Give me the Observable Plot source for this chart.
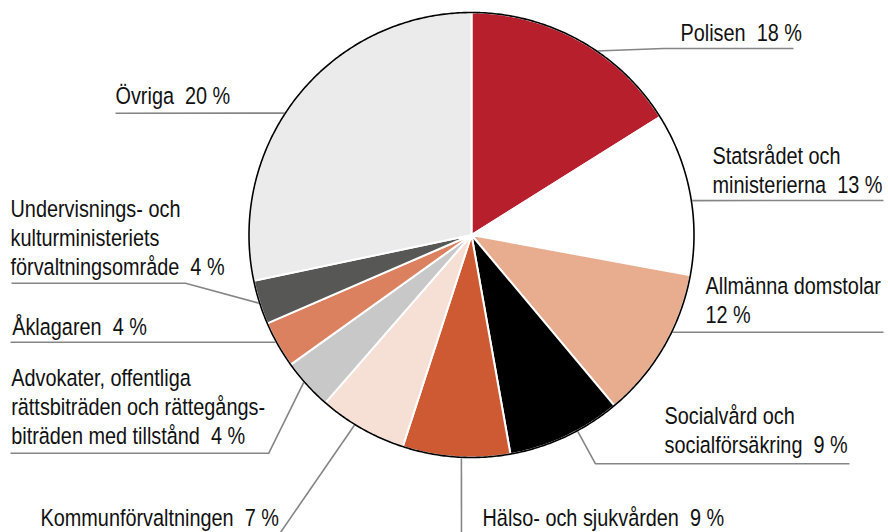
<!DOCTYPE html>
<html>
<head>
<meta charset="utf-8">
<script src="https://cdn.jsdelivr.net/npm/d3@7"></script>
<script src="https://cdn.jsdelivr.net/npm/@observablehq/plot@0.6"></script>
<style>
  html, body { margin: 0; padding: 0; background: #ffffff; overflow: hidden; }
</style>
</head>
<body>
<div id="chart"></div>
<script>
// ---------- data ----------
const categories = [
  "Polisen",
  "Statsrådet och ministerierna",
  "Allmänna domstolar",
  "Socialvård och socialförsäkring",
  "Hälso- och sjukvården",
  "Kommunförvaltningen",
  "Advokater, offentliga rättsbiträden och rättegångsbiträden med tillstånd",
  "Åklagaren",
  "Undervisnings- och kulturministeriets förvaltningsområde",
  "Övriga"
];
// slice sizes as drawn in the picture (share of the full circle, %)
const sliceShares = [16.1, 11.8, 11.0, 8.3, 7.8, 6.4, 3.7, 3.4, 3.2, 28.3];
// printed labels (lines)
const labelLines = [
  ["Polisen  18 %"],
  ["Statsrådet och", "ministerierna  13 %"],
  ["Allmänna domstolar", "12 %"],
  ["Socialvård och", "socialförsäkring  9 %"],
  ["Hälso- och sjukvården  9 %"],
  ["Kommunförvaltningen  7 %"],
  ["Advokater, offentliga", "rättsbiträden och rättegångs-", "biträden med tillstånd  4 %"],
  ["Åklagaren  4 %"],
  ["Undervisnings- och", "kulturministeriets", "förvaltningsområde  4 %"],
  ["Övriga  20 %"]
];

// ---------- styles ----------
const palette = ["#b81f2d", "#ffffff", "#e8ad8f", "#000000", "#cd5a33",
                 "#f6dfd5", "#c8c8c8", "#dc8160", "#575755", "#ebebeb"];

// ---------- layout ----------
const W = 888, H = 532, CX = 471, CY = 234.5, R = 222.5;
const LINE_GAP = 29;
const FONT_SIZE = 23.5, NARROW = 0.845;
const toU = ([px, py]) => [(px - CX) / R, (CY - py) / R];
// text: [left x, baseline of last line]; anchorDeg: where the leader leaves the pie; path: rest of leader
const labelLayout = [
  {text: [680, 40],    anchorDeg: 34.2,  path: [[663, 48], [793, 48]]},
  {text: [712, 192.7], anchorDeg: 81.1,  path: [[883, 200]]},
  {text: [705, 322.7], anchorDeg: 115.9, path: [[883, 331.7]]},
  {text: [664, 452.7], anchorDeg: 151.6, path: [[595, 463.3], [849, 463.3]]},
  {text: [482, 525],   anchorDeg: 182.6, path: [[461, 545]]},
  {text: [40, 525],    anchorDeg: 211.6, path: [[271, 545]]},
  {text: [10.7, 443.3],anchorDeg: 228.8, path: [[268.3, 452.7], [10, 452.7]]},
  {text: [11.7, 334],  anchorDeg: 241.2, path: [[10, 341.7]]},
  {text: [10, 274],    anchorDeg: 252.1, path: [[185, 282.7], [11, 282.7]]},
  {text: [115, 103.3], anchorDeg: 303.2, path: [[115, 112.7]]}
];

// ---------- derived geometry ----------
const table = categories.map((name, i) => ({name, value: sliceShares[i], color: palette[i]}));
const arcs = d3.pie().sort(null).value(d => d.value).startAngle(0).endAngle(2 * Math.PI)(table);

const slicePts = arcs.flatMap(a => {
  const n = Math.max(2, Math.ceil((a.endAngle - a.startAngle) / 0.005));
  const pts = [{name: a.data.name, color: a.data.color, x: 0, y: 0}];
  for (let k = 0; k <= n; k++) {
    const t = a.startAngle + (a.endAngle - a.startAngle) * k / n;
    pts.push({name: a.data.name, color: a.data.color, x: Math.sin(t), y: Math.cos(t)});
  }
  pts.push({name: a.data.name, color: a.data.color, x: 0, y: 0});
  return pts;
});

const rimPts = d3.range(0, 721).map(k => {
  const t = k / 720 * 2 * Math.PI;
  return {x: Math.sin(t), y: Math.cos(t)};
});

const leaderPts = labelLayout.flatMap((L, i) => {
  const t = L.anchorDeg * Math.PI / 180;
  const pts = [{id: i, x: Math.sin(t), y: Math.cos(t)}];
  L.path.forEach(p => { const [x, y] = toU(p); pts.push({id: i, x, y}); });
  return pts;
});

const textRows = labelLayout.flatMap((L, i) => {
  const lines = labelLines[i];
  return lines.map((s, j) => {
    const [x, y] = toU([L.text[0], L.text[1] - (lines.length - 1 - j) * LINE_GAP]);
    return {x, y, s};
  });
});

const FONT = "'Liberation Sans', Arial, Helvetica, sans-serif";

const chart = Plot.plot({
  width: W,
  height: H,
  margin: 0,
  x: {domain: [toU([0, 0])[0], toU([W, 0])[0]], axis: null},
  y: {domain: [toU([0, H])[1], toU([0, 0])[1]], axis: null},
  color: {type: "identity"},
  style: {background: "#ffffff", fontFamily: FONT},
  marks: [
    Plot.line(leaderPts, {x: "x", y: "y", z: "id", stroke: "#858585", strokeWidth: 1.6,
      strokeLinecap: "butt", strokeLinejoin: "miter"}),
    Plot.line(slicePts, {x: "x", y: "y", z: "name", fill: "color", stroke: "#ffffff",
      strokeWidth: 2, strokeLinejoin: "miter"}),
    Plot.line(rimPts, {x: "x", y: "y", stroke: "#000000", strokeWidth: 1.6, fill: "none"}),
    Plot.text(textRows, {x: "x", y: "y", text: "s", textAnchor: "start", lineAnchor: "bottom",
      fontSize: FONT_SIZE, fill: "#111111", fontFamily: FONT})
  ]
});
// condensed letterforms, like the reference's narrow typeface
chart.querySelectorAll("text").forEach(t => {
  const tr = t.getAttribute("transform");
  if (tr) {
    t.setAttribute("transform", tr + ` scale(${NARROW},1)`);
  } else {
    const x = +t.getAttribute("x") || 0, y = +t.getAttribute("y") || 0;
    t.removeAttribute("x");
    t.setAttribute("y", 0);
    t.setAttribute("transform", `translate(${x},${y}) scale(${NARROW},1)`);
  }
});
document.getElementById("chart").appendChild(chart);
</script>
</body>
</html>
